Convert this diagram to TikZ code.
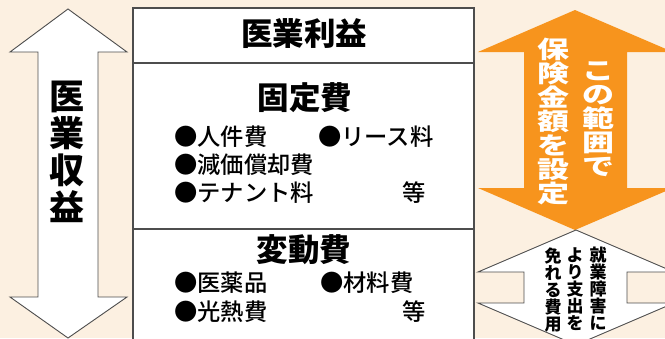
\documentclass[tikz,border=0pt]{standalone}
\usepackage{fontspec}
\usepackage{graphicx}
\IfFontExistsTF{Noto Sans CJK JP Medium}
  {\newfontfamily\jp{Noto Sans CJK JP Medium}}
  {\newfontfamily\jp{Noto Sans CJK JP}}
\IfFontExistsTF{Noto Sans CJK JP Black}
  {\newfontfamily\jpb{Noto Sans CJK JP Black}}
  {\newfontfamily\jpb{Noto Sans CJK JP Bold}[FakeBold=1.3]}
\definecolor{bg}{HTML}{FCF0E1}
\definecolor{org}{HTML}{F7941D}
\definecolor{lin}{HTML}{4D4D4D}
\newcommand\vsq[1]{\scalebox{1}[0.75]{#1}}
\begin{document}
\begin{tikzpicture}[x=1pt,y=-1pt,
  tbl/.style={draw=lin, line width=1.5pt},
  arr/.style={draw=lin, line width=0.9pt, fill=white, line join=miter},
  head/.style={inner sep=0, font=\jpb\fontsize{31.5}{31.5}\selectfont},
  item/.style={anchor=west, inner sep=0, font=\jp\fontsize{23.3}{23.3}\selectfont},
  itemc/.style={inner sep=0, font=\jp\fontsize{23.3}{23.3}\selectfont}]
\fill[bg] (0,0) rectangle (665,338);
\useasboundingbox (0,0) rectangle (665,338);
\clip (0,0) rectangle (665,338);
% left double arrow
\draw[arr] (68,9) -- (127,52) -- (98,52) -- (98,297) -- (127,297) -- (68,338) -- (10,297) -- (38,297) -- (38,52) -- (10,52) -- cycle;
\node[inner sep=0, align=center, font=\jpb\fontsize{35}{37}\selectfont] (rev) at (67,152) {医\\業\\収\\益};
% table
\draw[tbl, fill=white] (133,8) rectangle (474,350);
\draw[tbl] (133,63) -- (474,63);
\draw[tbl] (133,229) -- (474,229);
\node[head] (profit) at (304,34) {医業利益};
\node[head] (fixed) at (305,98) {固定費};
\node[item] (i1) at (174,137) {●人件費};
\node[item] (i2) at (318,137) {●リース料};
\node[item] (i3) at (174,165) {●減価償却費};
\node[item] (i4) at (174,193) {●テナント料};
\node[itemc] (e1) at (414,193) {等};
\node[head] (var) at (304,250) {変動費};
\node[item] (i5) at (174,283) {●医薬品};
\node[item] (i6) at (320,283) {●材料費};
\node[item] (i7) at (174,312) {●光熱費};
\node[itemc] (e2) at (414,312) {等};
% orange double arrow
\fill[org] (575,10) -- (673,52) -- (627,52) -- (627,188) -- (673,188) -- (575,230) -- (478,188) -- (524,188) -- (524,52) -- (478,52) -- cycle;
\node[inner sep=0, align=center, text=white, font=\jpb\fontsize{32}{24}\selectfont] (ins1) at (553,121)
  {\vsq{保}\\\vsq{険}\\\vsq{金}\\\vsq{額}\\\vsq{を}\\\vsq{設}\\\vsq{定}};
\node[inner sep=0, align=center, text=white, font=\jpb\fontsize{32}{24}\selectfont] (ins2) at (598,119)
  {\vsq{こ}\\\vsq{の}\\\vsq{範}\\\vsq{囲}\\\vsq{で}};
% lower white double arrow
\draw[arr] (576,230) -- (674,272) -- (627,272) -- (627,303) -- (674,303) -- (576,345) -- (478,303) -- (524,303) -- (524,272) -- (478,272) -- cycle;
\node[inner sep=0, align=center, font=\jpb\fontsize{17}{17}\selectfont] (c1) at (598,289) {就\\業\\障\\害\\に};
\node[inner sep=0, align=center, font=\jpb\fontsize{17}{17}\selectfont] (c2) at (575,289) {よ\\り\\支\\出\\を};
\node[inner sep=0, align=center, font=\jpb\fontsize{17}{17}\selectfont] (c3) at (553,290) {免\\れ\\る\\費\\用};
\end{tikzpicture}
\end{document}
